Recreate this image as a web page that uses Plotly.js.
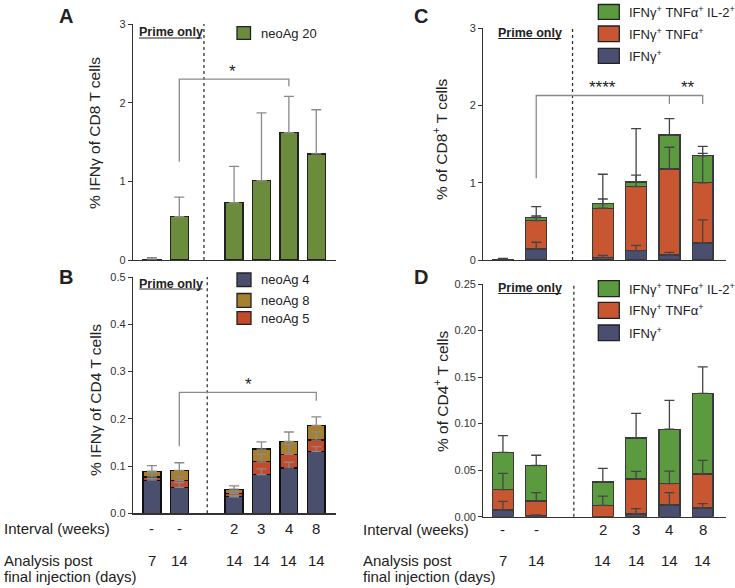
<!DOCTYPE html>
<html><head><meta charset="utf-8">
<script src="https://cdn.plot.ly/plotly-3.0.1.min.js"></script>
<style>html,body{margin:0;padding:0;background:#fff}#chart{width:735px;height:588px}</style>
</head><body><div id="chart"></div>
<script>
// ---------- data ----------
const positions = [0, 1, 3, 4, 5, 6];
const intervalLabels = ['-', '-', '2', '3', '4', '8'];
const dayLabels = ['7', '14', '14', '14', '14', '14'];

// Panel A: % IFNγ of CD8 T cells (neoAg 20)
const aNeo20 = [0.01, 0.55, 0.73, 1.01, 1.62, 1.35];
const aNeo20Err = [0.02, 0.25, 0.46, 0.86, 0.46, 0.56];

// Panel B: % IFNγ of CD4 T cells (stacked segment heights)
const bNeo4 = [0.070, 0.055, 0.035, 0.082, 0.096, 0.131];
const bNeo5 = [0.007, 0.014, 0.007, 0.027, 0.029, 0.024];
const bNeo8 = [0.012, 0.022, 0.009, 0.027, 0.027, 0.031];
const bNeo4Err = [0.004, 0.010, 0.003, 0.012, 0.012, 0.010];
const bNeo5Err = [0.009, 0.008, 0.004, 0.016, 0.021, 0.017];
const bNeo8Err = [0.012, 0.016, 0.007, 0.015, 0.020, 0.018];

// Panel C: % of CD8+ T cells (stacked segment heights)
const cIfng = [0.005, 0.14, 0.035, 0.12, 0.065, 0.22];
const cIfngTnf = [0.003, 0.37, 0.635, 0.83, 1.115, 0.78];
const cTriple = [0.002, 0.04, 0.06, 0.06, 0.44, 0.35];
const cIfngErr = [0.005, 0.09, 0.025, 0.07, 0.035, 0.30];
const cIfngTnfErr = [0.002, 0.06, 0.12, 0.15, 0.28, 0.38];
const cTripleErr = [0.01, 0.14, 0.38, 0.69, 0.21, 0.12];

// Panel D: % of CD4+ T cells (stacked segment heights)
const dIfng = [0.0072, 0.001, 0.0, 0.003, 0.0125, 0.0093];
const dIfngTnf = [0.0218, 0.0158, 0.0122, 0.0375, 0.023, 0.0365];
const dTriple = [0.040, 0.0382, 0.025, 0.044, 0.0585, 0.0867];
const dIfngErr = [0.0093, 0.001, 0, 0.0056, 0.0133, 0.0047];
const dIfngTnfErr = [0.0176, 0.009, 0.0098, 0.0082, 0.0135, 0.0147];
const dTripleErr = [0.018, 0.011, 0.0148, 0.0265, 0.031, 0.0285];

// significance brackets: [xLeft, yLeftEnd, yBar, xRight, yRightEnd]
const bracketA = [1, 1.25, 2.30, 5, 2.21];
const bracketB = [1, 0.142, 0.256, 6, 0.238];
const bracketC = [1, 1.06, 2.13, 6, 2.02];
const bracketCMid = [5, 2.02];

// ---------- helpers ----------
const W = 735, H = 588;
const px = v => v / W;
const py = v => 1 - v / H;
const zeros = n => new Array(n).fill(0);
const cum = (...arrs) => arrs[0].map((_, i) => arrs.reduce((s, a) => s + a[i], 0));

const FONT = 'Liberation Sans, Arial, sans-serif';
const colA = '#6b8b3d';
const colNavy = '#4b4f6e', colGold = '#a67f2f', colRed = '#c34a2a';
const colGreen = '#5c9a40', colOrange = '#c85630', colNavy2 = '#4a4f72';

function bar(x, y, color, xa, ya, w, lc) {
  return {type: 'bar', x: x, y: y, xaxis: xa, yaxis: ya, width: w,
    marker: {color: color, line: {color: lc, width: 1.4}}, hoverinfo: 'skip', showlegend: false};
}
function err(x, y, e, xa, ya, color) {
  return {type: 'scatter', mode: 'markers', x: x, y: y, xaxis: xa, yaxis: ya,
    marker: {opacity: 0, size: 1}, showlegend: false, hoverinfo: 'skip',
    error_y: {type: 'data', symmetric: false, array: e, arrayminus: zeros(e.length),
      color: color, thickness: 1.3, width: 5}};
}

const data = [
  bar(positions, aNeo20, colA, 'x', 'y', 0.66, '#222'),
  bar(positions, bNeo4, colNavy, 'x2', 'y2', 0.65, '#111'),
  bar(positions, bNeo5, colRed, 'x2', 'y2', 0.65, '#111'),
  bar(positions, bNeo8, colGold, 'x2', 'y2', 0.65, '#111'),
  bar(positions, cIfng, colNavy2, 'x3', 'y3', 0.63, '#3a3a3a'),
  bar(positions, cIfngTnf, colOrange, 'x3', 'y3', 0.63, '#3a3a3a'),
  bar(positions, cTriple, colGreen, 'x3', 'y3', 0.63, '#3a3a3a'),
  bar(positions, dIfng, colNavy2, 'x4', 'y4', 0.63, '#3a3a3a'),
  bar(positions, dIfngTnf, colOrange, 'x4', 'y4', 0.63, '#3a3a3a'),
  bar(positions, dTriple, colGreen, 'x4', 'y4', 0.63, '#3a3a3a'),
  err(positions, aNeo20, aNeo20Err, 'x', 'y', '#8a8a8a'),
  err(positions, cum(bNeo4), bNeo4Err, 'x2', 'y2', '#8a8a8a'),
  err(positions, cum(bNeo4, bNeo5), bNeo5Err, 'x2', 'y2', '#8a8a8a'),
  err(positions, cum(bNeo4, bNeo5, bNeo8), bNeo8Err, 'x2', 'y2', '#8a8a8a'),
  err(positions, cum(cIfng), cIfngErr, 'x3', 'y3', '#444'),
  err(positions, cum(cIfng, cIfngTnf), cIfngTnfErr, 'x3', 'y3', '#444'),
  err(positions, cum(cIfng, cIfngTnf, cTriple), cTripleErr, 'x3', 'y3', '#444'),
  err(positions, cum(dIfng), dIfngErr, 'x4', 'y4', '#444'),
  err(positions, cum(dIfng, dIfngTnf), dIfngTnfErr, 'x4', 'y4', '#444'),
  err(positions, cum(dIfng, dIfngTnf, dTriple), dTripleErr, 'x4', 'y4', '#444')
];

function xax(d, r, anchor) {
  return {domain: d, range: r, anchor: anchor, showline: true, linecolor: '#333', linewidth: 1.2,
    showticklabels: false, ticks: '', showgrid: false, zeroline: false, fixedrange: true};
}
function yax(d, r, anchor, tv, tt) {
  return {domain: d, range: r, anchor: anchor, showline: true, linecolor: '#333', linewidth: 1.2,
    ticks: 'outside', ticklen: 4, tickcolor: '#333', tickwidth: 1, tickvals: tv, ticktext: tt,
    tickfont: {family: FONT, size: 11, color: '#333'}, showgrid: false, zeroline: false, fixedrange: true};
}

const xABdom = [px(133), px(336)];
const xCDdom = [px(483.3), px(726)];
const rAB = [-0.69, 6.72];
const rCD = [-0.59, 6.70];

const shapes = [];
const ann = [];
function vdot(x, xa, ya) {
  shapes.push({type: 'line', xref: xa, yref: ya + ' domain', x0: x, x1: x, y0: 0, y1: 1,
    line: {color: '#333', width: 1.3, dash: 'dot'}});
}
vdot(1.9, 'x', 'y'); vdot(2.02, 'x2', 'y2'); vdot(2.09, 'x3', 'y3'); vdot(2.13, 'x4', 'y4');

function bracket(b, xa, ya, color) {
  shapes.push({type: 'path', xref: xa, yref: ya,
    path: `M${b[0]},${b[1]} L${b[0]},${b[2]} L${b[3]},${b[2]} L${b[3]},${b[4]}`,
    line: {color: color, width: 1.3}});
}
bracket(bracketA, 'x', 'y', '#8a8a8a');
bracket(bracketB, 'x2', 'y2', '#8a8a8a');
bracket(bracketC, 'x3', 'y3', '#8a8a8a');
shapes.push({type: 'line', xref: 'x3', yref: 'y3', x0: bracketCMid[0], x1: bracketCMid[0],
  y0: bracketC[2], y1: bracketCMid[1], line: {color: '#8a8a8a', width: 1.3}});

function star(t, x, y, xa, ya) {
  ann.push({text: t, x: x, y: y, xref: xa, yref: ya, showarrow: false, yanchor: 'bottom', yshift: -4,
    font: {family: FONT, size: 17, color: '#222'}});
}
star('*', 2.96, bracketA[2], 'x', 'y');
star('*', 3.51, bracketB[2], 'x2', 'y2');
star('****', 3.0, bracketC[2], 'x3', 'y3');
star('**', 5.55, bracketC[2], 'x3', 'y3');

function text(t, x, y, size, opts) {
  ann.push(Object.assign({text: t, x: px(x), y: py(y), xref: 'paper', yref: 'paper', showarrow: false,
    xanchor: 'left', yanchor: 'middle', font: {family: FONT, size: size, color: '#222'}}, opts || {}));
}
// panel letters
text('<b>A</b>', 57, 16, 20);
text('<b>B</b>', 57, 277, 20);
text('<b>C</b>', 412, 16, 20);
text('<b>D</b>', 412, 277, 20);
// y titles
const yt = {xanchor: 'center', textangle: -90};
text('% IFNγ of CD8 T cells', 95, 133, 15.5, yt);
text('% IFNγ of CD4 T cells', 95, 400, 15.5, yt);
text('% of CD8<sup>+</sup> T cells', 440, 140, 15.5, yt);
text('% of CD4<sup>+</sup> T cells', 441, 392, 15.5, yt);
// Prime only
function prime(cx, y) {
  text('<b>Prime only</b>', cx, y, 12.5, {xanchor: 'center'});
  shapes.push({type: 'line', xref: 'paper', yref: 'paper', x0: px(cx - 31.5), x1: px(cx + 31.5),
    y0: py(y + 5.5), y1: py(y + 5.5), line: {color: '#222', width: 1.2}});
}
prime(170.5, 32.5); prime(171, 283.5); prime(529.7, 33); prime(529.7, 288);

// legends
function legBox(x0, x1, y0, y1, color, label, tx, size) {
  shapes.push({type: 'rect', xref: 'paper', yref: 'paper', x0: px(x0), x1: px(x1), y0: py(y1), y1: py(y0),
    fillcolor: color, line: {color: '#222', width: 1.3}});
  text(label, tx, (y0 + y1) / 2, size);
}
legBox(237, 250.5, 26.7, 39.3, colA, 'neoAg 20', 259, 13);
legBox(237, 251, 273, 286.5, colNavy, 'neoAg 4', 259, 13);
legBox(237, 251, 293.5, 307.3, colGold, 'neoAg 8', 259, 13);
legBox(237, 251, 311.7, 324.3, colRed, 'neoAg 5', 259, 13);
const L1 = 'IFNγ<sup>+</sup> TNFα<sup>+</sup> IL-2<sup>+</sup>';
const L2 = 'IFNγ<sup>+</sup> TNFα<sup>+</sup>';
const L3 = 'IFNγ<sup>+</sup>';
legBox(598.3, 619.3, 4.5, 19.3, colGreen, L1, 626.5, 13);
legBox(598.3, 619.3, 26, 41.7, colOrange, L2, 626.5, 13);
legBox(598.3, 619.3, 48.3, 63.3, colNavy2, L3, 626.5, 13);
legBox(598.3, 619.3, 280.7, 296.7, colGreen, L1, 626.5, 13);
legBox(598.3, 619.3, 302.3, 318.3, colOrange, L2, 626.5, 13);
legBox(598.3, 619.3, 325, 340.7, colNavy2, L3, 626.5, 13);

// bottom row labels
text('Interval (weeks)', 2, 528, 15);
text('Analysis post', 2, 560, 15);
text('final injection (days)', 2, 576, 15);
text('Interval (weeks)', 361, 529, 15);
text('Analysis post', 361, 560, 15);
text('final injection (days)', 361, 576, 15);
function catLabels(xa, yInt, yDay) {
  positions.forEach((p, i) => {
    ann.push({text: intervalLabels[i], x: p, y: py(yInt), xref: xa, yref: 'paper', showarrow: false,
      yanchor: 'middle', font: {family: FONT, size: 15, color: '#222'}});
    ann.push({text: dayLabels[i], x: p, y: py(yDay), xref: xa, yref: 'paper', showarrow: false,
      yanchor: 'middle', font: {family: FONT, size: 15, color: '#222'}});
  });
}
catLabels('x2', 528, 560);
catLabels('x4', 529, 560.5);

const layout = {
  width: W, height: H, margin: {l: 0, r: 0, t: 0, b: 0},
  paper_bgcolor: '#fff', plot_bgcolor: 'rgba(0,0,0,0)',
  barmode: 'stack', showlegend: false,
  font: {family: FONT, color: '#222'},
  xaxis: xax(xABdom, rAB, 'y'),
  yaxis: yax([py(260), py(24)], [0, 3], 'x', [0, 1, 2, 3], ['0', '1', '2', '3']),
  xaxis2: xax(xABdom, rAB, 'y2'),
  yaxis2: yax([py(513.3), py(277)], [0, 0.5], 'x2', [0, 0.1, 0.2, 0.3, 0.4, 0.5], ['0.0', '0.1', '0.2', '0.3', '0.4', '0.5']),
  xaxis3: xax(xCDdom, rCD, 'y3'),
  yaxis3: yax([py(260), py(28.3)], [0, 3], 'x3', [0, 1, 2, 3], ['0', '1', '2', '3']),
  xaxis4: xax(xCDdom, rCD, 'y4'),
  yaxis4: yax([py(516.7), py(284)], [0, 0.25], 'x4', [0, 0.05, 0.10, 0.15, 0.20, 0.25], ['0.00', '0.05', '0.10', '0.15', '0.20', '0.25']),
  shapes: shapes,
  annotations: ann
};

Plotly.newPlot('chart', data, layout, {staticPlot: true, displayModeBar: false});
</script></body></html>
